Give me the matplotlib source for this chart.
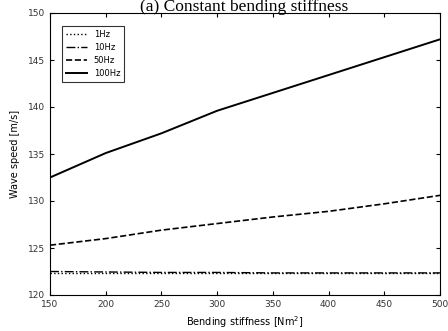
import matplotlib
matplotlib.use("Agg")
import matplotlib.pyplot as plt

# bending stiffness [Nm^2]
stiffness = [150, 200, 250, 300, 350, 400, 450, 500]

speed_1hz = [122.3, 122.3, 122.3, 122.3, 122.3, 122.3, 122.3, 122.3]
speed_10hz = [122.5, 122.45, 122.4, 122.4, 122.35, 122.35, 122.35, 122.35]
speed_50hz = [125.3, 126.0, 126.9, 127.6, 128.3, 128.9, 129.7, 130.6]
speed_100hz = [132.5, 135.1, 137.2, 139.6, 141.5, 143.4, 145.3, 147.2]

fig = plt.figure(figsize=(4.48, 3.31), dpi=100)
ax = fig.add_axes([50 / 448, 36 / 331, 390 / 448, 282 / 331])

ax.plot(stiffness, speed_1hz, c="black", ls=":", lw=1.0, label="1Hz")
ax.plot(stiffness, speed_10hz, c="black", ls="-.", lw=1.0, label="10Hz")
ax.plot(stiffness, speed_50hz, c="black", ls="--", lw=1.2, label="50Hz")
ax.plot(stiffness, speed_100hz, c="black", ls="-", lw=1.4, label="100Hz")

ax.set_xlim(150, 500)
ax.set_ylim(120, 150)
ax.set_xticks(range(150, 501, 50))
ax.set_yticks(range(120, 151, 5))
ax.tick_params(direction="in", labelsize=6.5, length=3, top=True, right=True,
               labelcolor="#333333")
ax.set_xlabel("Bending stiffness [Nm$^2$]", fontsize=7, labelpad=4)
ax.set_ylabel("Wave speed [m/s]", fontsize=7, labelpad=6)

leg = ax.legend(loc="upper left", fontsize=6, frameon=True, fancybox=False,
                edgecolor="black", handlelength=2.5, borderpad=0.5,
                labelspacing=0.5, bbox_to_anchor=(0.02, 0.97))
leg.get_frame().set_linewidth(0.8)

fig.text(0.545, 1 - 11 / 331, "(a) Constant bending stiffness", ha="center",
         va="baseline", fontsize=12.5, family="Liberation Serif")

fig.savefig("out.png", dpi=100)
